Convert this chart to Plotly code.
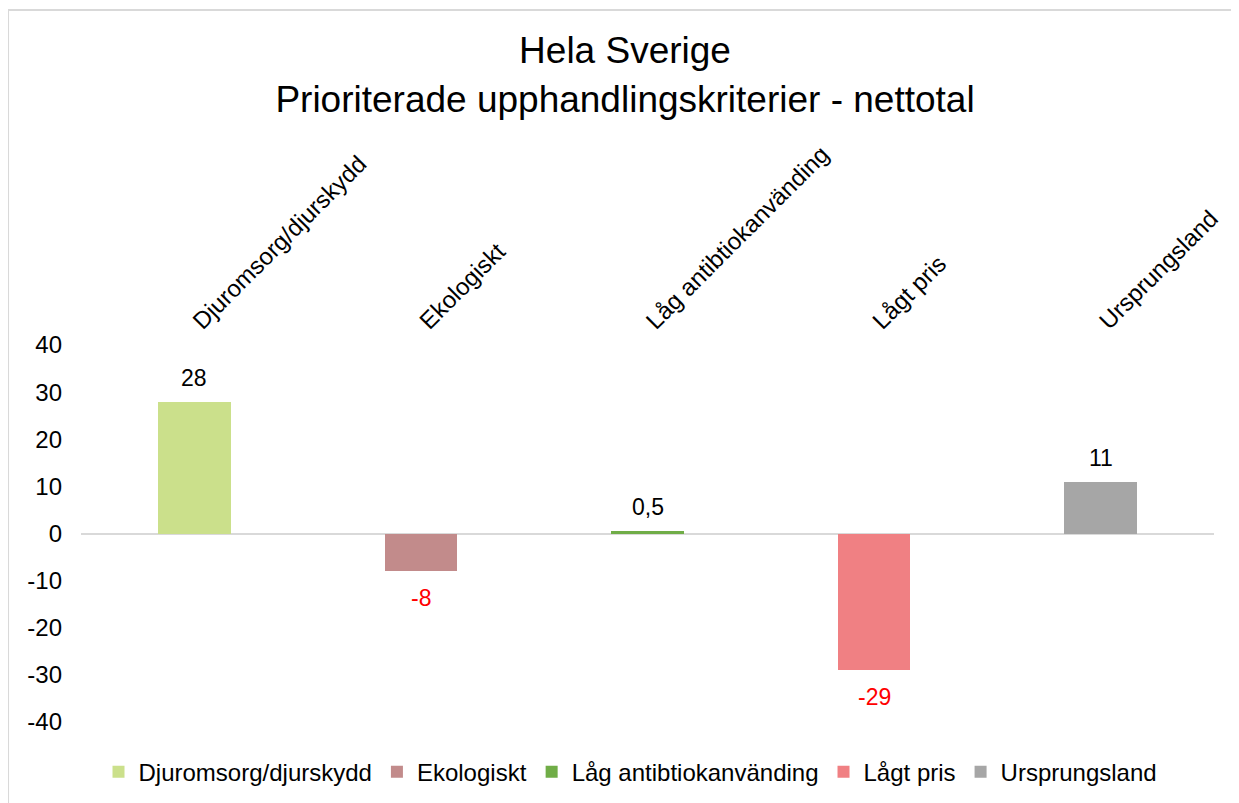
import plotly.graph_objects as go

# data
categories = ["Djuromsorg/djurskydd", "Ekologiskt", "Låg antibtiokanvänding", "Lågt pris", "Ursprungsland"]
values = [28, -8, 0.5, -29, 11]
value_labels = ["28", "-8", "0,5", "-29", "11"]
colors = ["#cbe08b", "#c28b8b", "#70ad47", "#f08083", "#a6a6a6"]
y_ticks = [-40, -30, -20, -10, 0, 10, 20, 30, 40]
y_tick_labels = ["-40", "-30", "-20", "-10", "0", "10", "20", "30", "40"]

FONT = "Liberation Sans, Arial, sans-serif"

fig = go.Figure()
for cat, val, col in zip(categories, values, colors):
    fig.add_trace(go.Bar(
        name=cat,
        x=[cat],
        y=[val],
        marker=dict(color=col, line=dict(width=0)),
        width=0.32,
    ))

# value labels, red for negatives
for cat, val, lab in zip(categories, values, value_labels):
    fig.add_annotation(
        x=cat, y=val, text=lab, showarrow=False,
        yanchor="middle", yshift=24 if val >= 0 else -27,
        font=dict(family=FONT, size=23, color="#000000" if val >= 0 else "#ff0000"),
    )

# light frame around the chart
fig.add_shape(type="rect", xref="paper", yref="paper",
              x0=-0.0644, x1=1.03, y0=-0.25, y1=1.8886,
              line=dict(color="#d9d9d9", width=2), layer="below")

fig.update_layout(
    width=1239, height=803,
    margin=dict(l=73, r=33, t=337, b=89),
    paper_bgcolor="white", plot_bgcolor="white",
    font=dict(family=FONT, size=24, color="#000000"),
    title=dict(
        text="Hela Sverige<br>Prioriterade upphandlingskriterier - nettotal",
        x=0.498, xref="container", xanchor="center",
        y=0.931, yref="container", yanchor="top",
        font=dict(family=FONT, size=37, color="#000000"),
    ),
    barmode="overlay",
    bargap=0,
    showlegend=True,
    legend=dict(
        orientation="h", x=0.485, xanchor="center", y=-0.133, yanchor="middle",
        font=dict(family=FONT, size=24), itemwidth=30, traceorder="normal",
    ),
    xaxis=dict(
        side="top", tickangle=-45, showline=False, showgrid=False,
        ticks="", tickfont=dict(family=FONT, size=24), zeroline=False,
        ticklabelstandoff=5,
    ),
    yaxis=dict(
        range=[-40, 40], tickvals=y_ticks, ticktext=y_tick_labels,
        showgrid=False, showline=False,
        zeroline=True, zerolinecolor="#d9d9d9", zerolinewidth=2,
        ticks="", ticklabelstandoff=18, tickfont=dict(family=FONT, size=24),
    ),
)

fig.write_html("out.html")
